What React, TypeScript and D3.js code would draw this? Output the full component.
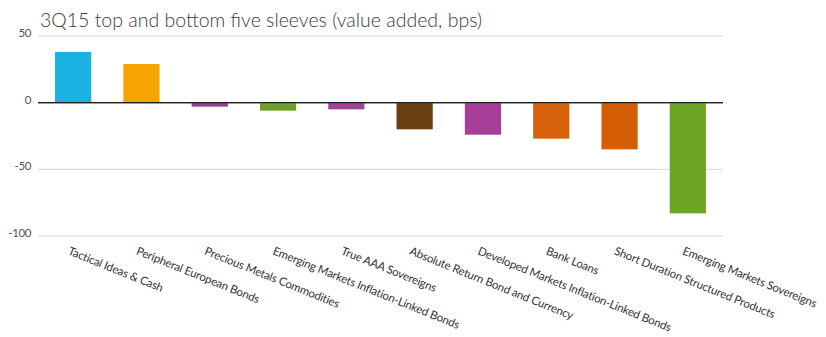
import React from "react";
import * as d3 from "d3";

const categories = [
  "Tactical Ideas & Cash",
  "Peripheral European Bonds",
  "Precious Metals Commodities",
  "Emerging Markets Inflation-Linked Bonds",
  "True AAA Sovereigns",
  "Absolute Return Bond and Currency",
  "Developed Markets Inflation-Linked Bonds",
  "Bank Loans",
  "Short Duration Structured Products",
  "Emerging Markets Sovereigns",
];
const values = [38, 29, -3, -6, -5, -20, -24, -27, -35, -83];
const colors = [
  "#1ab2e2",
  "#f6a500",
  "#9a3f8e",
  "#6f9f2a",
  "#9e4596",
  "#6b3f12",
  "#a73f99",
  "#d9620c",
  "#d55d06",
  "#6ca524",
];
const yTicks = [50, 0, -50, -100];
const title = "3Q15 top and bottom five sleeves (value added, bps)";

export default function App() {
  const W = 826;
  const H = 337;
  const x = d3.scaleBand<string>().domain(categories).range([39, 722]).paddingInner(0.47).paddingOuter(0.235);
  const y = d3.scaleLinear().domain([-100, 50]).range([236, 36]);
  return (
    <svg width={W} height={H} style={{ position: "absolute", left: 0, top: 0, background: "#fff" }}>
      <text x={40} y={27} fontFamily="Lato, sans-serif" fontSize={19.5} fill="#3a3a3a" fontWeight={300}>
        {title}
      </text>
      {yTicks.map((t) => (
        <g key={t}>
          <line x1={38} x2={723} y1={y(t)} y2={y(t)} stroke={t === 0 ? "#222" : "#d4d4d4"} strokeWidth={t === 0 ? 1.3 : 1} />
          <text x={31} y={y(t) + 1} textAnchor="end" fontFamily="Lato, sans-serif" fontSize={11.5} fill="#555" letterSpacing={-0.4}>
            {t}
          </text>
        </g>
      ))}
      {categories.map((c, i) => {
        const v = values[i];
        return (
          <rect
            key={c}
            x={x(c)}
            width={x.bandwidth()}
            y={Math.min(y(v), y(0))}
            height={Math.abs(y(v) - y(0))}
            fill={colors[i]}
          />
        );
      })}
      <line x1={38} x2={723} y1={y(0)} y2={y(0)} stroke="#222" strokeWidth={1.3} />
      {categories.map((c) => {
        const cx = (x(c) as number) + x.bandwidth() / 2 - 6;
        const cy = 254;
        return (
          <text
            key={c}
            transform={`translate(${cx},${cy}) rotate(22)`}
            fontFamily="Lato, sans-serif"
            fontSize={11.5}
            fill="#333"
            letterSpacing={-0.2}
          >
            {c}
          </text>
        );
      })}
    </svg>
  );
}
